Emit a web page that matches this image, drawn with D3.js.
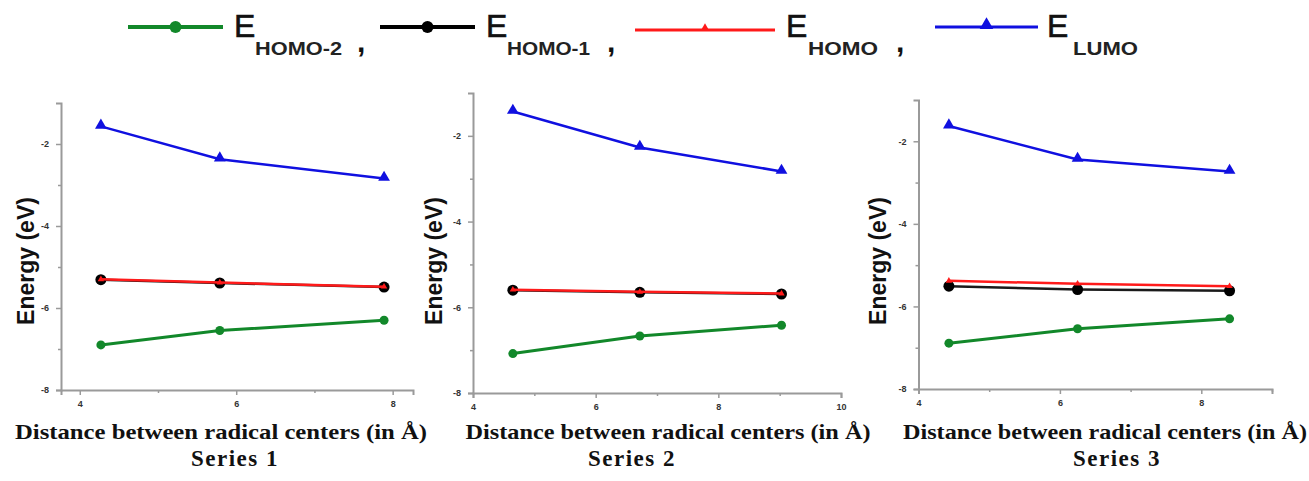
<!DOCTYPE html>
<html>
<head>
<meta charset="utf-8">
<script src="https://cdn.jsdelivr.net/npm/d3@7"></script>
<style>
  body { margin: 0; background: #fff; }
  svg { display: block; }
</style>
</head>
<body>
<svg id="chart" width="1309" height="481"></svg>
<script>
// data (x = distance in Å, y = energy in eV)
const panelNames = ['Series 1', 'Series 2', 'Series 3'];
const xDist = [[4.27, 5.79, 7.89], [4.65, 6.72, 9.03], [4.43, 6.25, 8.40]];
const eLumo = [[-1.57, -2.37, -2.84], [-1.43, -2.27, -2.83], [-1.63, -2.44, -2.73]];
const eHomo = [[-5.30, -5.38, -5.48], [-5.59, -5.64, -5.68], [-5.38, -5.45, -5.51]];
const eHomo1 = [[-5.31, -5.39, -5.49], [-5.60, -5.65, -5.69], [-5.51, -5.59, -5.62]];
const eHomo2 = [[-6.90, -6.55, -6.30], [-7.08, -6.67, -6.42], [-6.89, -6.54, -6.30]];
const xDomains = [[3.76, 8.26], [4, 10], [4, 9]];
const xTicks = [[4, 6, 8], [4, 6, 8, 10], [4, 6, 8]];
const yTicks = [-2, -4, -6, -8];
const yMinor = [-3, -5, -7];
const legendKeys = ['HOMO-2', 'HOMO-1', 'HOMO', 'LUMO'];
const xTitle = 'Distance between radical centers (in Å)';
const yTitle = 'Energy (eV)';

const colors = {green: '#12882a', black: '#000', red: '#ff1a1a', blue: '#1010e0'};

const svg = d3.select('#chart');

// placement of each panel (pixels)
const panels = [
  {left: 61, right: 413, top: 103, bottom: 390, yLab: 26, xLab: 221, xW: 412, sLab: 235},
  {left: 473, right: 841, top: 93, bottom: 393, yLab: 434, xLab: 668, xW: 405, sLab: 632},
  {left: 918.5, right: 1272, top: 100, bottom: 389, yLab: 878, xLab: 1105, xW: 404, sLab: 1117}
];

panels.forEach((p, i) => {
  const x = d3.scaleLinear().domain(xDomains[i]).range([p.left, p.right]);
  const y = d3.scaleLinear().domain([-8, -1]).range([p.bottom, p.top]);
  const g = svg.append('g');

  // axes
  const xMin = d3.range(Math.ceil(xDomains[i][0]), xDomains[i][1] + 0.001, 1).filter(v => v % 2 !== 0);
  g.append('g').attr('transform', `translate(0,${p.bottom})`)
    .call(d3.axisBottom(x).tickValues(xTicks[i]).tickSize(5).tickPadding(6).tickFormat(d3.format('d')));
  g.append('g').attr('transform', `translate(0,${p.bottom})`)
    .call(d3.axisBottom(x).tickValues(xMin).tickSize(3).tickFormat(''))
    .select('.domain').remove();
  const ya = g.append('g').attr('transform', `translate(${p.left},0)`)
    .call(d3.axisLeft(y).tickValues(yTicks).tickSize(5).tickPadding(7).tickFormat(d3.format('d')));
  g.append('g').attr('transform', `translate(${p.left},0)`)
    .call(d3.axisLeft(y).tickValues(yMinor).tickSize(3).tickFormat(''))
    .select('.domain').remove();

  g.selectAll('.domain').attr('stroke', '#9a9a9a').attr('stroke-width', 2);
  g.selectAll('.tick line').attr('stroke', '#9a9a9a').attr('stroke-width', 1.5);
  g.selectAll('.tick text').attr('fill', '#333').attr('font-family', 'Arial, "Liberation Sans", sans-serif')
    .attr('font-weight', 'bold').attr('font-size', 9);
  ya.selectAll('.tick text').text(d => d);

  const pts = arr => xDist[i].map((v, k) => [x(v), y(arr[i][k])]);
  const line = d3.line();

  // HOMO-2
  g.append('path').attr('d', line(pts(eHomo2))).attr('fill', 'none')
    .attr('stroke', colors.green).attr('stroke-width', 3);
  g.selectAll('.c2').data(pts(eHomo2)).join('circle')
    .attr('cx', d => d[0]).attr('cy', d => d[1]).attr('r', 4.5).attr('fill', colors.green);

  // HOMO-1
  g.append('path').attr('d', line(pts(eHomo1))).attr('fill', 'none')
    .attr('stroke', '#1a1a1a').attr('stroke-width', 2.5);
  g.selectAll('.c1').data(pts(eHomo1)).join('circle')
    .attr('cx', d => d[0]).attr('cy', d => d[1]).attr('r', 5.5).attr('fill', colors.black);

  // HOMO
  g.append('path').attr('d', line(pts(eHomo))).attr('fill', 'none')
    .attr('stroke', colors.red).attr('stroke-width', 2.5);
  g.selectAll('.t0').data(pts(eHomo)).join('path')
    .attr('transform', d => `translate(${d[0]},${d[1]})`)
    .attr('d', d3.symbol(d3.symbolTriangle, 18)).attr('fill', colors.red);

  // LUMO
  g.append('path').attr('d', line(pts(eLumo))).attr('fill', 'none')
    .attr('stroke', colors.blue).attr('stroke-width', 2.5);
  g.selectAll('.tl').data(pts(eLumo)).join('path')
    .attr('transform', d => `translate(${d[0]},${d[1] - 1})`)
    .attr('d', d3.symbol(d3.symbolTriangle, 60)).attr('fill', colors.blue);

  // titles
  svg.append('text')
    .attr('transform', `translate(${p.yLab + 8},261) rotate(-90)`)
    .attr('text-anchor', 'middle')
    .attr('font-family', 'Arial, "Liberation Sans", sans-serif').attr('font-weight', 'bold')
    .attr('font-size', 23).attr('fill', '#111').text(yTitle);
  svg.append('text')
    .attr('x', p.xLab - p.xW / 2).attr('y', 439)
    .attr('font-family', '"Times New Roman", "Liberation Serif", serif').attr('font-weight', 'bold')
    .attr('font-size', 22).attr('fill', '#111')
    .attr('textLength', p.xW).attr('lengthAdjust', 'spacingAndGlyphs').text(xTitle);
  svg.append('text')
    .attr('x', p.sLab).attr('y', 466).attr('text-anchor', 'middle')
    .attr('font-family', '"Times New Roman", "Liberation Serif", serif').attr('font-weight', 'bold')
    .attr('font-size', 23).attr('letter-spacing', 1.5).attr('fill', '#111').text(panelNames[i]);
});

// legend
const legendPos = [
  {x0: 128, x1: 223, e: 234, sub: 255, subW: 87, comma: 357, color: colors.green, mark: 'circle'},
  {x0: 380, x1: 475, e: 486, sub: 507, subW: 83, comma: 607, color: colors.black, mark: 'circle'},
  {x0: 635, x1: 775, e: 786, sub: 808, subW: 70, comma: 896, color: colors.red, mark: 'smalltri'},
  {x0: 935, x1: 1038, e: 1047, sub: 1073, subW: 65, comma: null, color: colors.blue, mark: 'tri'}
];
const lg = svg.append('g');
legendKeys.forEach((k, i) => {
  const l = legendPos[i];
  const ly = i === 2 ? 30 : 27;
  lg.append('line').attr('x1', l.x0).attr('x2', l.x1).attr('y1', ly).attr('y2', ly)
    .attr('stroke', l.color).attr('stroke-width', i < 2 ? 4 : 3);
  const cx = (l.x0 + l.x1) / 2;
  if (l.mark === 'circle') {
    lg.append('circle').attr('cx', cx).attr('cy', ly).attr('r', 6).attr('fill', l.color);
  } else {
    lg.append('path').attr('transform', `translate(${cx},${ly - 2})`)
      .attr('d', d3.symbol(d3.symbolTriangle, l.mark === 'tri' ? 80 : 30)).attr('fill', l.color);
  }
  lg.append('text').attr('x', l.e).attr('y', 37)
    .attr('font-family', 'Arial, "Liberation Sans", sans-serif').attr('font-size', 32)
    .attr('fill', '#111').attr('stroke', '#111').attr('stroke-width', 0.6).text('E');
  lg.append('text').attr('x', l.sub).attr('y', 55)
    .attr('font-family', 'Arial, "Liberation Sans", sans-serif').attr('font-weight', 'bold')
    .attr('font-size', 19).attr('fill', '#222')
    .attr('textLength', l.subW).attr('lengthAdjust', 'spacingAndGlyphs').text(k);
  if (l.comma) {
    lg.append('text').attr('x', l.comma).attr('y', 52)
      .attr('font-family', 'Arial, "Liberation Sans", sans-serif').attr('font-weight', 'bold')
      .attr('font-size', 30).attr('fill', '#111').text(',');
  }
});
</script>
</body>
</html>
